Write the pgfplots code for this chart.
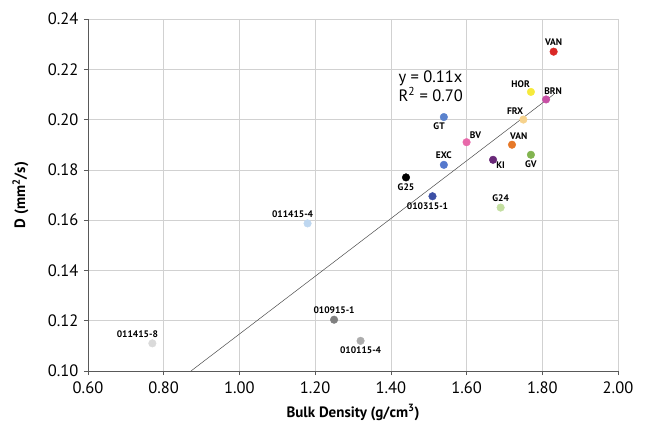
\documentclass[border=0pt]{standalone}
\usepackage{pgfplots}
\pgfplotsset{compat=1.18}
\usepackage{fontspec}
\setmainfont{PT Sans}

\definecolor{cVANr}{RGB}{218,40,38}
\definecolor{cHOR}{RGB}{246,234,60}
\definecolor{cBRN}{RGB}{200,80,165}
\definecolor{cFRX}{RGB}{246,210,140}
\definecolor{cGT}{RGB}{90,130,205}
\definecolor{cBV}{RGB}{232,105,170}
\definecolor{cVANo}{RGB}{230,120,40}
\definecolor{cGV}{RGB}{130,180,80}
\definecolor{cKI}{RGB}{105,40,120}
\definecolor{cEXC}{RGB}{85,120,205}
\definecolor{cG25}{RGB}{0,0,0}
\definecolor{cA}{RGB}{60,80,165}
\definecolor{cG24}{RGB}{195,222,160}
\definecolor{cB}{RGB}{190,215,240}
\definecolor{cC}{RGB}{128,128,128}
\definecolor{cD}{RGB}{172,172,172}
\definecolor{cE}{RGB}{218,218,218}

\begin{document}
\begin{tikzpicture}[
		font=\fontsize{15}{17}\selectfont,
		lbl/.style={font=\fontsize{9.5}{10}\selectfont\bfseries, inner sep=2pt},
	]
	\begin{axis}[
		scale only axis,
		width=530pt,
		height=352pt,
		xmin=0.6, xmax=2.0,
		ymin=0.10, ymax=0.24,
		xtick={0.6,0.8,...,2.01},
		ytick={0.10,0.12,...,0.241},
		/pgf/number format/.cd, fixed, fixed zerofill, precision=2, assume math mode=true,
		/pgfplots/.cd,
		tick label style={font=\fontsize{16.5}{18}\selectfont},
		xticklabel style={yshift=-3pt},
		yticklabel style={xshift=-2pt},
		axis lines*=left,
		axis line style={draw=black!65, line width=0.6pt},
		tick style={draw=black!65, line width=0.6pt},
		tick align=outside,
		major tick length=4pt,
		grid=major,
		major grid style={draw=black!18, line width=0.6pt},
		xlabel={\bfseries Bulk Density (g/cm\textsuperscript{3})},
		ylabel={\bfseries D (mm\textsuperscript{2}/s)},
		xlabel style={at={(axis description cs:0.5,0)}, anchor=north, yshift=-30pt},
		ylabel style={at={(axis description cs:0,0.5)}, anchor=south, yshift=56pt},
		clip=false,
		every axis plot/.append style={only marks, mark=*, mark size=3.8pt},
	]
		% trend line through the origin
		\addplot[no markers, draw=black!70, line width=0.5pt, only marks=false, sharp plot] coordinates {(0.872,0.100) (1.830,0.210)};

		\addplot[cVANr, mark options={fill=cVANr, draw=cVANr}] coordinates {(1.83,0.227)};
		\addplot[cHOR, mark options={fill=cHOR, draw=cHOR}] coordinates {(1.77,0.211)};
		\addplot[cBRN, mark options={fill=cBRN, draw=cBRN}] coordinates {(1.81,0.208)};
		\addplot[cFRX, mark options={fill=cFRX, draw=cFRX}] coordinates {(1.75,0.200)};
		\addplot[cGT, mark options={fill=cGT, draw=cGT}] coordinates {(1.54,0.201)};
		\addplot[cBV, mark options={fill=cBV, draw=cBV}] coordinates {(1.60,0.191)};
		\addplot[cVANo, mark options={fill=cVANo, draw=cVANo}] coordinates {(1.72,0.190)};
		\addplot[cGV, mark options={fill=cGV, draw=cGV}] coordinates {(1.77,0.186)};
		\addplot[cKI, mark options={fill=cKI, draw=cKI}] coordinates {(1.67,0.184)};
		\addplot[cEXC, mark options={fill=cEXC, draw=cEXC}] coordinates {(1.54,0.182)};
		\addplot[cG25, mark options={fill=cG25, draw=cG25}] coordinates {(1.44,0.177)};
		\addplot[cA, mark options={fill=cA, draw=cA}] coordinates {(1.51,0.1695)};
		\addplot[cG24, mark options={fill=cG24, draw=cG24}] coordinates {(1.69,0.165)};
		\addplot[cB, mark options={fill=cB, draw=cB}] coordinates {(1.18,0.1587)};
		\addplot[cC, mark options={fill=cC, draw=cC}] coordinates {(1.25,0.1204)};
		\addplot[cD, mark options={fill=cD, draw=cD}] coordinates {(1.32,0.112)};
		\addplot[cE, mark options={fill=cE, draw=cE}] coordinates {(0.77,0.111)};

		\node[lbl, above, yshift=4pt] at (axis cs:1.83,0.227) {VAN};
		\node[lbl, above left, xshift=1pt, yshift=2pt] at (axis cs:1.77,0.211) {HOR};
		\node[lbl, above right, xshift=-4pt, yshift=3pt] at (axis cs:1.81,0.208) {BRN};
		\node[lbl, above left, xshift=2pt, yshift=3pt] at (axis cs:1.75,0.200) {FRX};
		\node[lbl, below left, xshift=3pt, yshift=-3pt] at (axis cs:1.54,0.201) {GT};
		\node[lbl, above right, xshift=1pt, yshift=1pt] at (axis cs:1.60,0.191) {BV};
		\node[lbl, above right, xshift=-4pt, yshift=3pt] at (axis cs:1.72,0.190) {VAN};
		\node[lbl, below, yshift=-4pt] at (axis cs:1.77,0.186) {GV};
		\node[lbl, below right, xshift=1pt, yshift=0pt] at (axis cs:1.67,0.184) {KI};
		\node[lbl, above, yshift=4pt] at (axis cs:1.54,0.182) {EXC};
		\node[lbl, below, yshift=-4pt] at (axis cs:1.44,0.177) {G25};
		\node[lbl, below, xshift=-5pt, yshift=-4pt] at (axis cs:1.51,0.1695) {010315-1};
		\node[lbl, above, yshift=4pt] at (axis cs:1.69,0.165) {G24};
		\node[lbl, above, xshift=-15pt, yshift=4pt] at (axis cs:1.18,0.1587) {011415-4};
		\node[lbl, above, yshift=4pt] at (axis cs:1.25,0.1204) {010915-1};
		\node[lbl, below, yshift=-4pt] at (axis cs:1.32,0.112) {010115-4};
		\node[lbl, above, xshift=-15pt, yshift=4pt] at (axis cs:0.77,0.111) {011415-8};

		\node[align=left, font=\fontsize{16.5}{17}\selectfont, anchor=north west, inner sep=0pt] at (axis cs:1.42,0.2195) {y = 0.11x\\R\textsuperscript{2} = 0.70};
	\end{axis}
	\path ([shift={(-88pt,-55pt)}]current axis.south west) rectangle ([shift={(28pt,19pt)}]current axis.north east);
\end{tikzpicture}
\end{document}
